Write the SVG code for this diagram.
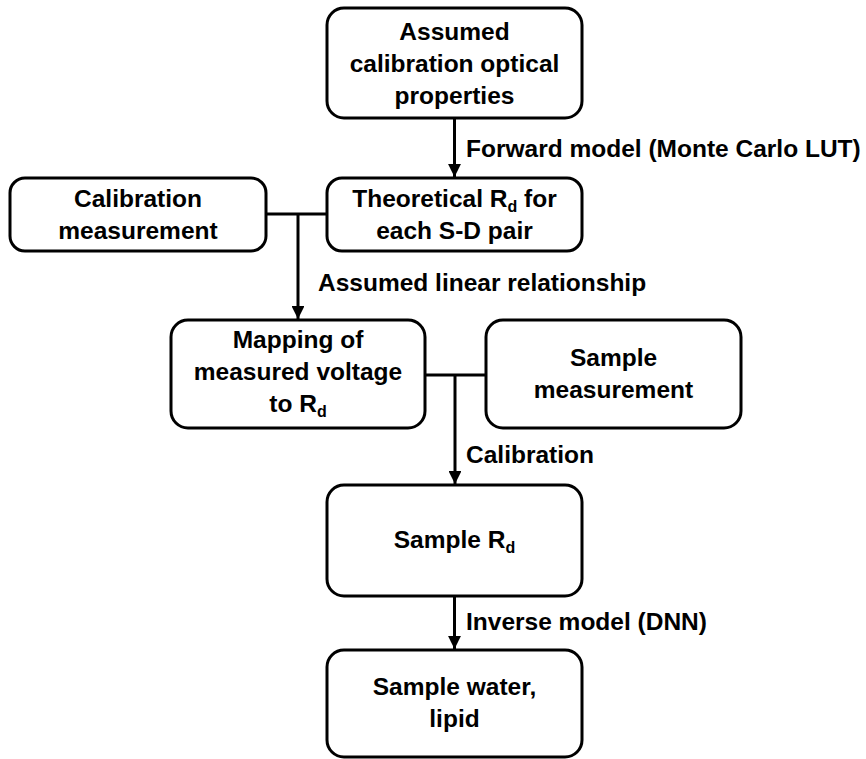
<svg xmlns="http://www.w3.org/2000/svg" width="866" height="759" viewBox="0 0 866 759">
<style>
.box{fill:#fff;stroke:#000;stroke-width:3}
.t{font-family:"Liberation Sans",Arial,sans-serif;font-weight:bold;font-size:24.5px;fill:#000}
.c{text-anchor:middle}
.sub{font-size:16px}
.ln{stroke:#000;stroke-width:3;fill:none}
</style>
<defs>
<marker id="ah" viewBox="0 0 10 10" refX="10" refY="5" markerWidth="4.3" markerHeight="4.3" orient="auto" markerUnits="strokeWidth">
<path d="M0,0 L10,5 L0,10 z" fill="#000"/>
</marker>
</defs>
<rect width="866" height="759" fill="#fff"/>
<g id="connectors">
<path class="ln" d="M454.5,118 V177" marker-end="url(#ah)"/>
<path class="ln" d="M266,214 H327"/>
<path class="ln" d="M298,214 V319" marker-end="url(#ah)"/>
<path class="ln" d="M425,375 H486"/>
<path class="ln" d="M455,375 V484" marker-end="url(#ah)"/>
<path class="ln" d="M454.5,596 V649" marker-end="url(#ah)"/>
<text class="t" x="466" y="157">Forward model (Monte Carlo LUT)</text>
<text class="t" x="318" y="291">Assumed linear relationship</text>
<text class="t" x="466" y="463">Calibration</text>
<text class="t" x="466" y="630">Inverse model (DNN)</text>
</g>
<g id="n1">
<rect class="box" x="327" y="8" width="255" height="110" rx="17"/>
<text class="t c" x="454.5" y="40">Assumed</text>
<text class="t c" x="454.5" y="72">calibration optical</text>
<text class="t c" x="454.5" y="104">properties</text>
</g>
<g id="n2">
<rect class="box" x="10" y="178" width="256" height="73" rx="15"/>
<text class="t c" x="138" y="207">Calibration</text>
<text class="t c" x="138" y="239">measurement</text>
</g>
<g id="n3">
<rect class="box" x="327" y="178" width="255" height="73" rx="15"/>
<text class="t c" x="454.5" y="207">Theoretical R<tspan class="sub" dy="5">d</tspan><tspan dy="-5"> for</tspan></text>
<text class="t c" x="454.5" y="239">each S-D pair</text>
</g>
<g id="n4">
<rect class="box" x="171" y="320" width="254" height="108" rx="17"/>
<text class="t c" x="298" y="348">Mapping of</text>
<text class="t c" x="298" y="380">measured voltage</text>
<text class="t c" x="298" y="412">to R<tspan class="sub" dy="5">d</tspan></text>
</g>
<g id="n5">
<rect class="box" x="486" y="320" width="255" height="108" rx="17"/>
<text class="t c" x="613.5" y="366">Sample</text>
<text class="t c" x="613.5" y="398">measurement</text>
</g>
<g id="n6">
<rect class="box" x="327" y="485" width="255" height="111" rx="17"/>
<text class="t c" x="454.5" y="548">Sample R<tspan class="sub" dy="5">d</tspan></text>
</g>
<g id="n7">
<rect class="box" x="327" y="650" width="255" height="107" rx="17"/>
<text class="t c" x="454.5" y="695">Sample water,</text>
<text class="t c" x="454.5" y="727">lipid</text>
</g>
</svg>
